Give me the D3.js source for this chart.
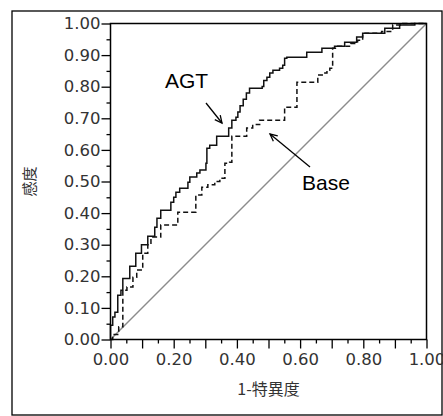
<!DOCTYPE html>
<html>
<head>
<meta charset="utf-8">
<script src="https://cdn.jsdelivr.net/npm/d3@7"></script>
<style>
    body { margin: 0; background: #fff; }
    svg { display: block; }
</style>
</head>
<body>
<div id="chart"></div>
<script>
// ROC curve data (step corners, fpr -> tpr)
const agtFpr = [0, 0, 0.007, 0.014, 0.023, 0.033, 0.039, 0.061, 0.080, 0.098, 0.118, 0.140, 0.147, 0.159,
    0.191, 0.200, 0.207, 0.219, 0.245, 0.251, 0.273, 0.283, 0.302, 0.305, 0.314, 0.336, 0.374, 0.384,
    0.397, 0.403, 0.41, 0.42, 0.43, 0.44, 0.48, 0.485, 0.495, 0.504, 0.514, 0.535, 0.545, 0.551, 0.558,
    0.621, 0.669, 0.709, 0.741, 0.779, 0.798, 0.868, 0.915, 0.963, 1.0];
const agtTpr = [0, 0.045, 0.071, 0.086, 0.14, 0.156, 0.193, 0.232, 0.273, 0.30, 0.327, 0.355, 0.384, 0.409,
    0.434, 0.450, 0.466, 0.479, 0.498, 0.514, 0.527, 0.536, 0.558, 0.605, 0.615, 0.643, 0.669, 0.694,
    0.703, 0.72, 0.74, 0.76, 0.78, 0.795, 0.801, 0.82, 0.83, 0.843, 0.852, 0.858, 0.868, 0.89, 0.893,
    0.909, 0.922, 0.928, 0.941, 0.957, 0.969, 0.985, 0.995, 1.0, 1.0];

const baseFpr = [0, 0.007, 0.026, 0.039, 0.052, 0.071, 0.083, 0.102, 0.118, 0.128, 0.159, 0.213, 0.270,
    0.289, 0.308, 0.33, 0.346, 0.362, 0.377, 0.384, 0.431, 0.45, 0.472, 0.551, 0.590, 0.656, 0.67,
    0.685, 0.694, 0.703, 0.719, 0.76, 0.782, 0.798, 0.858, 0.893, 0.925, 1.0];
const baseTpr = [0, 0.016, 0.04, 0.156, 0.166, 0.197, 0.22, 0.273, 0.30, 0.324, 0.362, 0.403, 0.457,
    0.482, 0.49, 0.50, 0.51, 0.558, 0.561, 0.643, 0.669, 0.68, 0.694, 0.735, 0.814, 0.837, 0.843,
    0.852, 0.858, 0.922, 0.928, 0.937, 0.947, 0.969, 0.975, 0.995, 1.0, 1.0];

const diagonal = [0, 1];

const yTicks = [0, 0.1, 0.2, 0.3, 0.4, 0.5, 0.6, 0.7, 0.8, 0.9, 1.0];
const xMajorTicks = [0, 0.1, 0.2, 0.3, 0.4, 0.5, 0.6, 0.7, 0.8, 0.9, 1.0];
const xLabelTicks = [0, 0.2, 0.4, 0.6, 0.8, 1.0];
const minorTicks = [0.05, 0.15, 0.25, 0.35, 0.45, 0.55, 0.65, 0.75, 0.85, 0.95];

const xTitle = '1-特異度';
const yTitle = '感度';
const agtLabel = 'AGT';
const baseLabel = 'Base';

class RocChart {

    constructor() {
        this.width = 443;
        this.height = 416;
        this.svg = d3.select('#chart').append('svg')
            .attr('width', this.width)
            .attr('height', this.height);

        this.x = d3.scaleLinear().domain([0, 1]).range([110.5, 426.5]);
        this.y = d3.scaleLinear().domain([0, 1]).range([339.5, 23.5]);
        this.draw();
    }

    axes() {
        let self = this;
        const tickFont = g => g.selectAll('text')
            .style('font-family', '"DejaVu Sans", Verdana, sans-serif')
            .style('font-size', '16.5px')
            .style('fill', '#333');

        self.svg.append('g')
            .attr('transform', `translate(${self.x(0)},0)`)
            .call(d3.axisLeft(self.y).tickValues(yTicks).tickFormat(d3.format('.2f'))
                .tickSize(9).tickPadding(1))
            .call(g => g.select('.domain').remove())
            .call(g => g.selectAll('line').attr('stroke', '#000').attr('stroke-width', 1.3))
            .call(tickFont);
        self.svg.append('g')
            .attr('transform', `translate(${self.x(0)},0)`)
            .call(d3.axisLeft(self.y).tickValues(minorTicks).tickFormat('').tickSize(4))
            .call(g => g.select('.domain').remove())
            .call(g => g.selectAll('line').attr('stroke', '#000').attr('stroke-width', 1.3));

        self.svg.append('g')
            .attr('transform', `translate(0,${self.y(0)})`)
            .call(d3.axisBottom(self.x).tickValues(xMajorTicks)
                .tickFormat(d => xLabelTicks.includes(d) ? d3.format('.2f')(d) : '')
                .tickSize(9).tickPadding(5))
            .call(g => g.select('.domain').remove())
            .call(g => g.selectAll('line').attr('stroke', '#000').attr('stroke-width', 1.3))
            .call(tickFont);
        self.svg.append('g')
            .attr('transform', `translate(0,${self.y(0)})`)
            .call(d3.axisBottom(self.x).tickValues(minorTicks).tickFormat('').tickSize(4))
            .call(g => g.select('.domain').remove())
            .call(g => g.selectAll('line').attr('stroke', '#000').attr('stroke-width', 1.3));

        self.svg.append('text')
            .text(xTitle)
            .attr('x', (self.x(0) + self.x(1)) / 2)
            .attr('y', 395)
            .attr('text-anchor', 'middle')
            .style('font-family', '"Noto Sans CJK JP", sans-serif')
            .style('font-size', '16px')
            .style('fill', '#333');
        self.svg.append('text')
            .text(yTitle)
            .attr('transform', `translate(35,${(self.y(0) + self.y(1)) / 2}) rotate(-90)`)
            .attr('text-anchor', 'middle')
            .style('font-family', '"Noto Sans CJK JP", sans-serif')
            .style('font-size', '15px')
            .style('fill', '#333');
    }

    curves() {
        let self = this;
        const line = d3.line()
            .x(d => self.x(d[0]))
            .y(d => self.y(d[1]))
            .curve(d3.curveStepAfter);

        self.svg.append('path')
            .attr('d', d3.line().x(d => self.x(d)).y(d => self.y(d))(diagonal))
            .attr('fill', 'none')
            .attr('stroke', '#8c8c8c')
            .attr('stroke-width', 1.5);

        self.svg.append('path')
            .attr('d', line(d3.zip(baseFpr, baseTpr)))
            .attr('fill', 'none')
            .attr('stroke', '#111')
            .attr('stroke-width', 1.5)
            .attr('stroke-dasharray', '5,3');

        self.svg.append('path')
            .attr('d', line(d3.zip(agtFpr, agtTpr)))
            .attr('fill', 'none')
            .attr('stroke', '#111')
            .attr('stroke-width', 1.5);
    }

    arrow(x1, y1, x2, y2) {
        let self = this;
        const ang = Math.atan2(y2 - y1, x2 - x1);
        const len = 8, spread = 0.45;
        const head = [
            [x2 - len * Math.cos(ang - spread), y2 - len * Math.sin(ang - spread)],
            [x2, y2],
            [x2 - len * Math.cos(ang + spread), y2 - len * Math.sin(ang + spread)]
        ];
        self.svg.append('line')
            .attr('x1', x1).attr('y1', y1).attr('x2', x2).attr('y2', y2)
            .attr('stroke', '#000')
            .attr('stroke-width', 1.3);
        self.svg.append('path')
            .attr('d', d3.line()(head))
            .attr('fill', 'none')
            .attr('stroke', '#000')
            .attr('stroke-width', 1.3);
    }

    annotations() {
        let self = this;
        self.svg.append('text')
            .text(agtLabel)
            .attr('x', 165)
            .attr('y', 88)
            .style('font-family', '"Liberation Sans", Arial, sans-serif')
            .style('font-size', '21px')
            .style('fill', '#000');
        self.arrow(206, 103, 222, 123);

        self.svg.append('text')
            .text(baseLabel)
            .attr('x', 302)
            .attr('y', 190)
            .style('font-family', '"Liberation Sans", Arial, sans-serif')
            .style('font-size', '21px')
            .style('fill', '#000');
        self.arrow(310, 167, 270, 134);
    }

    draw() {
        let self = this;
        // outer border
        self.svg.append('rect')
            .attr('x', 12).attr('y', 11)
            .attr('width', 430).attr('height', 404)
            .attr('fill', 'none')
            .attr('stroke', '#000')
            .attr('stroke-width', 1.3);

        self.axes();
        self.curves();

        // plot frame
        self.svg.append('rect')
            .attr('x', self.x(0)).attr('y', self.y(1))
            .attr('width', self.x(1) - self.x(0))
            .attr('height', self.y(0) - self.y(1))
            .attr('fill', 'none')
            .attr('stroke', '#000')
            .attr('stroke-width', 1.5);

        self.annotations();
    }
}

new RocChart();
</script>
</body>
</html>
